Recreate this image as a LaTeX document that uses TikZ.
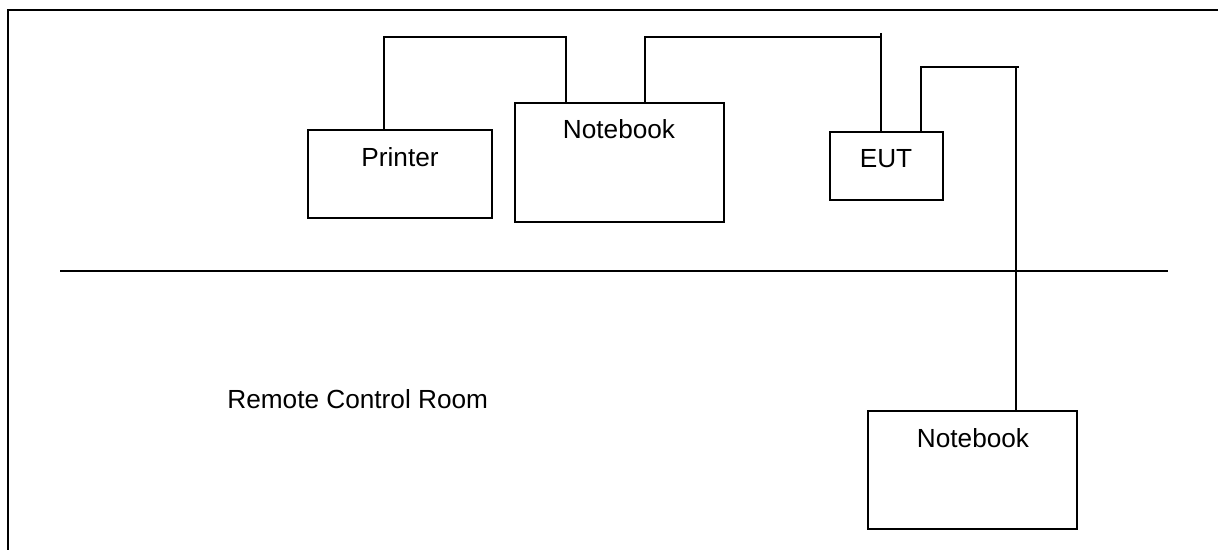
\documentclass[tikz,border=0pt]{standalone}
\usepackage{fontspec}
\setmainfont{Liberation Sans}
\begin{document}
\begin{tikzpicture}[x=0.5pt,y=-0.5pt,
  wire/.style={line width=0.75pt},
  frame/.style={line width=1pt},
  box/.style={draw,line width=0.75pt,rectangle,inner sep=0pt},
  lbl/.style={inner sep=0pt,font=\fontsize{13.1}{15}\selectfont}]
\useasboundingbox (0,0) rectangle (1218,550);
% frame and floor line
\coordinate (ftl) at (8,10);
\coordinate (ftr) at (1218,10);
\coordinate (fbl) at (8,550);
\draw[frame] (fbl) -- (ftl) -- (ftr);
\coordinate (wl) at (60,271);
\coordinate (wr) at (1168,271);
\draw[wire] (wl) -- (wr);
% boxes
\node[box,minimum width=92pt,minimum height=44pt] (prn) at (400,174) {};
\node[box,minimum width=104.5pt,minimum height=59.5pt] (nba) at (619.5,162.5) {};
\node[box,minimum width=56.5pt,minimum height=34pt] (eut) at (886.5,166) {};
\node[box,minimum width=104.5pt,minimum height=59pt] (nbb) at (972.5,470) {};
% labels
\node[lbl,anchor=base] (tprn) at (400,167) {Printer};
\node[lbl,anchor=base] (tnba) at (619,139) {Notebook};
\node[lbl,anchor=base] (teut) at (886,168) {EUT};
\node[lbl,anchor=base] (tnbb) at (973,447) {Notebook};
\node[lbl,anchor=base west] (troom) at (227,408) {Remote Control Room};
% connectors
\coordinate (p1) at (384,37);
\coordinate (p2) at (566,37);
\draw[wire] (prn.north -| p1) -- (p1) -- (p2) -- (nba.north -| p2);
\coordinate (q1) at (645,37);
\coordinate (q2) at (881,37);
\draw[wire] (nba.north -| q1) -- (q1) -- (q2);
\draw[wire] ([yshift=2pt]q2) -- (eut.north -| q2);
\coordinate (r1) at (921,67);
\coordinate (r2) at (1016,67);
\coordinate (r3) at (1019,67);
\draw[wire] (eut.north -| r1) -- (r1) -- (r3);
\draw[wire] (r2) -- (nbb.north -| r2);
\end{tikzpicture}
\end{document}
